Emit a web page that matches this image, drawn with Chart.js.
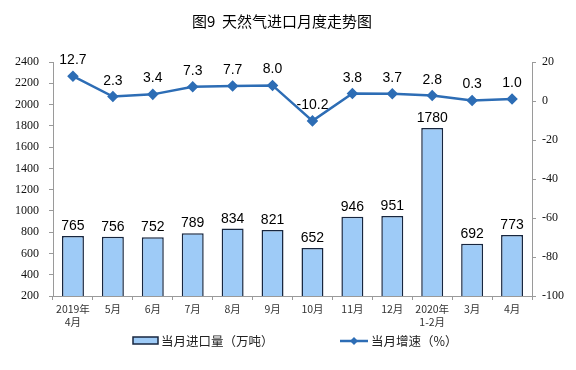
<!DOCTYPE html>
<html>
<head>
<meta charset="utf-8">
<script src="https://cdn.jsdelivr.net/npm/chart.js@4"></script>
<style>
  html, body { margin: 0; padding: 0; background: #fff; }
  #wrap { width: 576px; height: 370px; position: relative; }
</style>
</head>
<body>
<div id="wrap"><canvas id="chart" width="576" height="370"></canvas></div>
<script>
const months = [['2019年', '4月'], '5月', '6月', '7月', '8月', '9月', '10月', '11月', '12月', ['2020年', '1-2月'], '3月', '4月'];
const importVolume = [765, 756, 752, 789, 834, 821, 652, 946, 951, 1780, 692, 773];
const growthRate = [12.7, 2.3, 3.4, 7.3, 7.7, 8.0, -10.2, 3.8, 3.7, 2.8, 0.3, 1.0];
const titleText = '图9  天然气进口月度走势图';
const volumeLabel = '当月进口量（万吨）';
const growthLabel = '当月增速（%）';

const barFill = '#9ecbf7';
const barEdge = '#17263f';
const lineColor = '#2d6db5';
const cjk = '"Noto Sans CJK SC", "Noto Sans", sans-serif';
const serif = '"Liberation Serif", "DejaVu Serif", serif';

// title, value labels and legend drawn on the canvas
const decorations = {
  id: 'decorations',
  afterDatasetsDraw(chart) {
    const ctx = chart.ctx;
    ctx.save();

    ctx.fillStyle = '#000';
    ctx.font = '15px ' + cjk;
    ctx.textAlign = 'center';
    ctx.textBaseline = 'middle';
    ctx.fillText(titleText, 282, 21);

    ctx.font = '14px "Liberation Sans", Arial, sans-serif';
    ctx.textBaseline = 'alphabetic';
    chart.getDatasetMeta(0).data.forEach((bar, i) => {
      ctx.fillText(importVolume[i], bar.x, bar.y - 6);
    });
    chart.getDatasetMeta(1).data.forEach((pt, i) => {
      ctx.fillText(growthRate[i].toFixed(1), pt.x, pt.y - 12);
    });

    // legend
    const ly = 341;
    ctx.fillStyle = barFill;
    ctx.strokeStyle = barEdge;
    ctx.lineWidth = 1.5;
    ctx.fillRect(133, ly - 4, 25, 7);
    ctx.strokeRect(133, ly - 4, 25, 7);
    ctx.fillStyle = '#222';
    ctx.font = '12.5px ' + cjk;
    ctx.textAlign = 'left';
    ctx.textBaseline = 'middle';
    ctx.fillText(volumeLabel, 161, ly);

    ctx.strokeStyle = lineColor;
    ctx.lineWidth = 2.5;
    ctx.beginPath();
    ctx.moveTo(340, ly);
    ctx.lineTo(368, ly);
    ctx.stroke();
    ctx.fillStyle = lineColor;
    ctx.beginPath();
    ctx.moveTo(354, ly - 4);
    ctx.lineTo(358, ly);
    ctx.lineTo(354, ly + 4);
    ctx.lineTo(350, ly);
    ctx.closePath();
    ctx.fill();
    ctx.fillStyle = '#222';
    ctx.fillText(growthLabel, 371, ly);

    ctx.restore();
  }
};

new Chart(document.getElementById('chart'), {
  data: {
    labels: months,
    datasets: [
      {
        type: 'bar',
        label: volumeLabel,
        data: importVolume,
        backgroundColor: barFill,
        borderColor: barEdge,
        borderWidth: 1.5,
        barPercentage: 0.55,
        categoryPercentage: 1,
        yAxisID: 'y',
        order: 2
      },
      {
        type: 'line',
        label: growthLabel,
        data: growthRate,
        borderColor: lineColor,
        backgroundColor: lineColor,
        borderWidth: 2.5,
        pointStyle: 'rectRot',
        pointRadius: 4,
        tension: 0,
        yAxisID: 'y1',
        order: 1
      }
    ]
  },
  options: {
    responsive: false,
    animation: false,
    devicePixelRatio: 1,
    layout: { padding: { top: 62, bottom: 30, left: 0, right: 0 } },
    plugins: {
      legend: { display: false },
      title: { display: false },
      tooltip: { enabled: false }
    },
    scales: {
      x: {
        offset: true,
        grid: { display: true, drawOnChartArea: false, offset: true, tickLength: 4, color: '#9a9a9a' },
        border: { color: '#9a9a9a' },
        ticks: { color: '#333', font: { family: cjk, size: 10.5, lineHeight: 1.3 }, padding: 2, maxRotation: 0, autoSkip: false },
        afterFit(s) { s.height = 44; }
      },
      y: {
        position: 'left',
        min: 200,
        max: 2400,
        grid: { drawOnChartArea: false, tickLength: 4, color: '#9a9a9a' },
        border: { color: '#9a9a9a' },
        ticks: { stepSize: 200, color: '#111', font: { family: serif, size: 12 }, padding: 10, callback: v => String(v) },
        afterFit(s) { s.width = 53; }
      },
      y1: {
        position: 'right',
        min: -100,
        max: 20,
        grid: { drawOnChartArea: false, tickLength: 4, color: '#9a9a9a' },
        border: { color: '#9a9a9a' },
        ticks: { stepSize: 20, color: '#111', font: { family: serif, size: 12 }, padding: 6, callback: v => String(v) },
        afterFit(s) { s.width = 44; }
      }
    }
  },
  plugins: [decorations]
});
</script>
</body>
</html>
